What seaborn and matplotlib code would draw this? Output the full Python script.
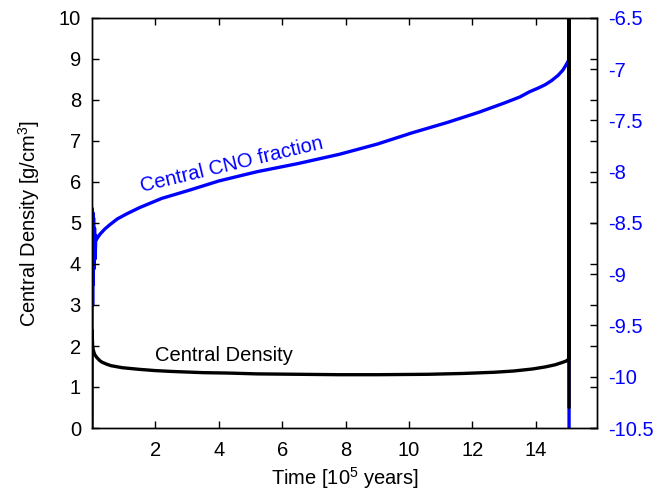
import matplotlib
matplotlib.use("Agg")
import matplotlib.pyplot as plt
import seaborn as sns
import pandas as pd

# ---- data ----
t_dens = [0.0, 0.005, 0.01, 0.02, 0.04, 0.08, 0.15, 0.25, 0.33, 0.45, 0.6,
          0.96, 1.5, 2.0, 2.5, 3.5, 4.3, 5.2, 6.5, 7.8, 9.0, 10.6, 11.7, 12.7,
          13.3, 13.9, 14.3, 14.6, 14.8, 14.95, 15.04, 15.05, 15.05]
dens = [0.0, 2.39, 2.2, 2.0, 1.9, 1.8, 1.72, 1.64, 1.6, 1.56, 1.52, 1.47,
        1.43, 1.4, 1.38, 1.35, 1.34, 1.32, 1.31, 1.30, 1.30, 1.31, 1.33, 1.36,
        1.39, 1.44, 1.49, 1.54, 1.59, 1.63, 1.68, 11.0, 0.5]

t_cno = [0.0, 0.01, 0.02, 0.03, 0.04, 0.05, 0.06, 0.08, 0.10, 0.12, 0.14,
         0.25, 0.4, 0.55, 0.8, 1.1, 1.5, 2.2, 3.07, 4.0, 5.2, 6.5, 7.8, 9.0,
         10.1, 11.2, 12.2, 13.0, 13.5, 13.8, 14.1, 14.3, 14.5, 14.7, 14.85,
         14.95, 15.04, 15.05]
cno = [-9.54, -8.36, -9.3, -8.40, -9.1, -8.45, -8.95, -8.55, -8.85, -8.62,
       -8.66, -8.61, -8.56, -8.52, -8.46, -8.41, -8.35, -8.26, -8.18, -8.09,
       -8.0, -7.92, -7.83, -7.73, -7.62, -7.52, -7.42, -7.33, -7.27, -7.22,
       -7.18, -7.15, -7.11, -7.06, -7.01, -6.96, -6.91, -11.0]

left_ticks = [0, 1, 2, 3, 4, 5, 6, 7, 8, 9, 10]
right_ticks = [-10.5, -10, -9.5, -9, -8.5, -8, -7.5, -7, -6.5]
x_ticks = [2, 4, 6, 8, 10, 12, 14]

df_dens = pd.DataFrame({"t": t_dens, "v": dens})
df_cno = pd.DataFrame({"t": t_cno, "v": cno})

sns.set_theme(style="white")
plt.rcParams["font.family"] = ["Liberation Sans", "DejaVu Sans"]
plt.rcParams["mathtext.fontset"] = "custom"
plt.rcParams["mathtext.rm"] = "Liberation Sans"
plt.rcParams["mathtext.it"] = "Liberation Sans:italic"
plt.rcParams["text.color"] = "black"
plt.rcParams["axes.labelcolor"] = "black"
plt.rcParams["xtick.color"] = "black"
plt.rcParams["ytick.color"] = "black"

FS = 14.5
BLUE = "#0000ff"

fig = plt.figure(figsize=(6.69, 4.91), dpi=100)
ax = fig.add_axes([92 / 669, 1 - 428 / 491, (597 - 92) / 669, (428 - 18) / 491])
ax2 = ax.twinx()

# blue first (below), black on top
sns.lineplot(data=df_cno, x="t", y="v", ax=ax2, sort=False, estimator=None,
             color=BLUE, lw=2.4)
sns.lineplot(data=df_dens, x="t", y="v", ax=ax, sort=False, estimator=None,
             color="black", lw=2.4)
ax.set_zorder(ax2.get_zorder() + 1)
ax.patch.set_visible(False)

ax.set_xlim(0, 15.93)
ax.set_ylim(0, 10)
ax2.set_ylim(-10.5, -6.5)

ax.set_xticks(x_ticks)
ax.set_xticklabels([f"{v:g}" for v in x_ticks])
ax.set_yticks(left_ticks)
ax.set_yticklabels([f"{v:g}" for v in left_ticks])
ax2.set_yticks(right_ticks)
ax2.set_yticklabels([f"{v:g}" for v in right_ticks])

ax.tick_params(axis="both", direction="in", length=5, width=1, color="black",
               labelsize=FS, top=True, right=True, left=True, bottom=True,
               labelcolor="black", pad=9)
ax.tick_params(axis="y", pad=8)
ax2.tick_params(axis="y", direction="in", length=5, width=1, color="black",
                labelsize=FS, labelcolor=BLUE, pad=8, right=True)

for a in (ax, ax2):
    for s in a.spines.values():
        s.set_color("black")
        s.set_linewidth(1.0)
        s.set_visible(True)

ax.set_xlabel("Time [10$^5$ years]", fontsize=FS, labelpad=4, color="black")
ax.set_ylabel("Central Density [g/cm$^3$]", fontsize=FS, labelpad=12,
              color="black")
ax2.set_ylabel("")
ax.text(4.4, 6.41, "Central CNO fraction", color=BLUE, fontsize=FS,
        rotation=13.5, ha="center", va="center")
ax.text(4.15, 1.78, "Central Density", color="black", fontsize=FS,
        ha="center", va="center")

fig.savefig("out.png", dpi=100)
